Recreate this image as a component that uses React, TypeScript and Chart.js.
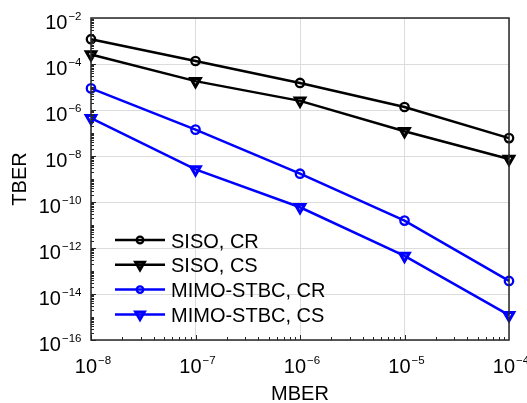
import React, { useEffect, useRef } from 'react';
import { Chart, registerables } from 'chart.js';
Chart.register(...registerables);

const mber = [1e-8, 1e-7, 1e-6, 1e-5, 1e-4];
const sisoCR = [1.2e-3, 1.35e-4, 1.5e-5, 1.35e-6, 6e-8];
const sisoCS = [2.6e-4, 1.8e-5, 2.5e-6, 1.2e-7, 7.4e-9];
const mimoCR = [8.7e-6, 1.4e-7, 1.7e-9, 1.55e-11, 3.7e-14];
const mimoCS = [4.4e-7, 2.6e-9, 5.9e-11, 4.5e-13, 1.2e-15];
const seriesLabels = ['SISO, CR', 'SISO, CS', 'MIMO-STBC, CR', 'MIMO-STBC, CS'];
const seriesColors = ['#000000', '#000000', '#0000ff', '#0000ff'];
const seriesMarkers = ['circle', 'triangle', 'circle', 'triangle'];
const xTickExps = [-8, -7, -6, -5, -4];
const yTickExps = [-16, -14, -12, -10, -8, -6, -4, -2];
const xTitle = 'MBER';
const yTitle = 'TBER';

const FONT = '"Liberation Sans", Arial, Helvetica, sans-serif';
const AXIS = '#262626';
const BIG = 20;
const SMALL = 11.5;

function drawPow(ctx: CanvasRenderingContext2D, exp: number, x: number, base: number, align: 'right' | 'center') {
  ctx.font = `${BIG}px ${FONT}`;
  const w1 = ctx.measureText('10').width;
  const es = '\u2212' + Math.abs(exp);
  ctx.font = `${SMALL}px ${FONT}`;
  const w2 = ctx.measureText(es).width;
  const gap = 1;
  const total = w1 + w2 + gap;
  const start = align === 'right' ? x - total : x - total / 2 + 2;
  ctx.fillStyle = '#000';
  ctx.textAlign = 'left';
  ctx.textBaseline = 'alphabetic';
  ctx.font = `${BIG}px ${FONT}`;
  ctx.fillText('10', start, base);
  ctx.font = `${SMALL}px ${FONT}`;
  ctx.fillText(es, start + w1 + gap, base - 8.7);
}

const decorPlugin = {
  id: 'decor',
  afterDraw(chart: any) {
    const { ctx, chartArea: a, scales } = chart;
    const xs = scales.x;
    const ys = scales.y;
    ctx.save();
    // ticks (inward)
    ctx.strokeStyle = AXIS;
    ctx.lineWidth = 1;
    ctx.beginPath();
    for (let d = -16; d < -2; d++) {
      for (let k = 1; k <= 9; k++) {
        const v = k * Math.pow(10, d);
        const py = Math.round(ys.getPixelForValue(v)) + 0.5;
        const len = k === 1 && yTickExps.includes(d) ? 5 : 3;
        ctx.moveTo(a.left, py);
        ctx.lineTo(a.left + len, py);
      }
    }
    for (let d = -8; d < -4; d++) {
      for (let k = 1; k <= 9; k++) {
        const v = k * Math.pow(10, d);
        const px = Math.round(xs.getPixelForValue(v)) + 0.5;
        const len = k === 1 ? 5 : 3;
        ctx.moveTo(px, a.bottom);
        ctx.lineTo(px, a.bottom - len);
      }
    }
    ctx.stroke();
    // box
    ctx.lineWidth = 1.5;
    ctx.strokeRect(a.left, a.top, a.right - a.left, a.bottom - a.top);

    // tick labels
    for (const e of yTickExps) {
      const py = ys.getPixelForValue(Math.pow(10, e));
      drawPow(ctx, e, a.left - 9.5, py + 10.5, 'right');
    }
    for (const e of xTickExps) {
      const px = xs.getPixelForValue(Math.pow(10, e));
      drawPow(ctx, e, px, a.bottom + 33, 'center');
    }
    // titles
    ctx.fillStyle = '#000';
    ctx.font = `${BIG}px ${FONT}`;
    ctx.textAlign = 'center';
    ctx.textBaseline = 'alphabetic';
    ctx.fillText(xTitle, (a.left + a.right) / 2, a.bottom + 60);
    ctx.save();
    ctx.translate(25.5, (a.top + a.bottom) / 2);
    ctx.rotate(-Math.PI / 2);
    ctx.fillText(yTitle, 0, 0);
    ctx.restore();

    // legend
    const lx0 = a.left + 24;
    const lx1 = a.left + 74;
    const ly0 = 240;
    const dy = 24.8;
    seriesLabels.forEach((lab, i) => {
      const ly = ly0 + i * dy;
      ctx.strokeStyle = seriesColors[i];
      ctx.lineWidth = 2.5;
      ctx.beginPath();
      ctx.moveTo(lx0, ly);
      ctx.lineTo(lx1, ly);
      ctx.stroke();
      const cx = (lx0 + lx1) / 2;
      ctx.beginPath();
      if (seriesMarkers[i] === 'circle') {
        ctx.arc(cx, ly, 3.3, 0, Math.PI * 2);
        ctx.lineWidth = 2.3;
      } else {
        const r = 5;
        ctx.moveTo(cx - r * 0.866, ly - r * 0.5);
        ctx.lineTo(cx + r * 0.866, ly - r * 0.5);
        ctx.lineTo(cx, ly + r);
        ctx.closePath();
        ctx.lineWidth = 3;
      }
      ctx.stroke();
      ctx.fillStyle = '#000';
      ctx.font = `${BIG}px ${FONT}`;
      ctx.textAlign = 'left';
      ctx.textBaseline = 'alphabetic';
      ctx.fillText(lab, lx1 + 6, ly + 7.5);
    });
    ctx.restore();
  },
};

export default function App() {
  const ref = useRef<HTMLCanvasElement>(null);
  useEffect(() => {
    document.body.style.margin = '0';
    const canvas = ref.current!;
    const all = [sisoCR, sisoCS, mimoCR, mimoCS];
    const chart = new Chart(canvas, {
      type: 'line',
      data: {
        datasets: all.map((arr, i) => ({
          label: seriesLabels[i],
          data: mber.map((x, j) => ({ x, y: arr[j] })),
          borderColor: seriesColors[i],
          backgroundColor: 'rgba(0,0,0,0)',
          borderWidth: 2.5,
          pointStyle: seriesMarkers[i] as any,
          pointRotation: seriesMarkers[i] === 'triangle' ? 180 : 0,
          pointRadius: seriesMarkers[i] === 'triangle' ? 5.5 : 4.2,
          pointBorderWidth: seriesMarkers[i] === 'triangle' ? 3 : 2.3,
          pointBorderColor: seriesColors[i],
          pointBackgroundColor: 'rgba(0,0,0,0)',
          tension: 0,
          clip: false as any,
        })),
      },
      options: {
        animation: false,
        responsive: false,
        devicePixelRatio: 1,
        layout: { padding: { left: 0, top: 18, right: 18, bottom: 0 } },
        plugins: { legend: { display: false }, tooltip: { enabled: false } },
        scales: {
          x: {
            type: 'logarithmic',
            min: 1e-8,
            max: 1e-4,
            afterBuildTicks: (s: any) => {
              s.ticks = xTickExps.map((e) => ({ value: Math.pow(10, e), major: true }));
            },
            afterFit: (s: any) => {
              s.height = 63;
            },
            ticks: { display: false },
            grid: { color: '#dcdcdc', lineWidth: 1, drawTicks: false },
            border: { display: false },
          },
          y: {
            type: 'logarithmic',
            min: 1e-16,
            max: 1e-2,
            afterBuildTicks: (s: any) => {
              s.ticks = yTickExps.map((e) => ({ value: Math.pow(10, e), major: true }));
            },
            afterFit: (s: any) => {
              s.width = 91;
            },
            ticks: { display: false },
            grid: { color: '#dcdcdc', lineWidth: 1, drawTicks: false },
            border: { display: false },
          },
        },
      },
      plugins: [decorPlugin],
    } as any);
    return () => chart.destroy();
  }, []);
  return (
    <div style={{ width: 527, height: 403, overflow: 'hidden' }}>
      <canvas ref={ref} width={527} height={403} style={{ display: 'block' }} />
    </div>
  );
}
